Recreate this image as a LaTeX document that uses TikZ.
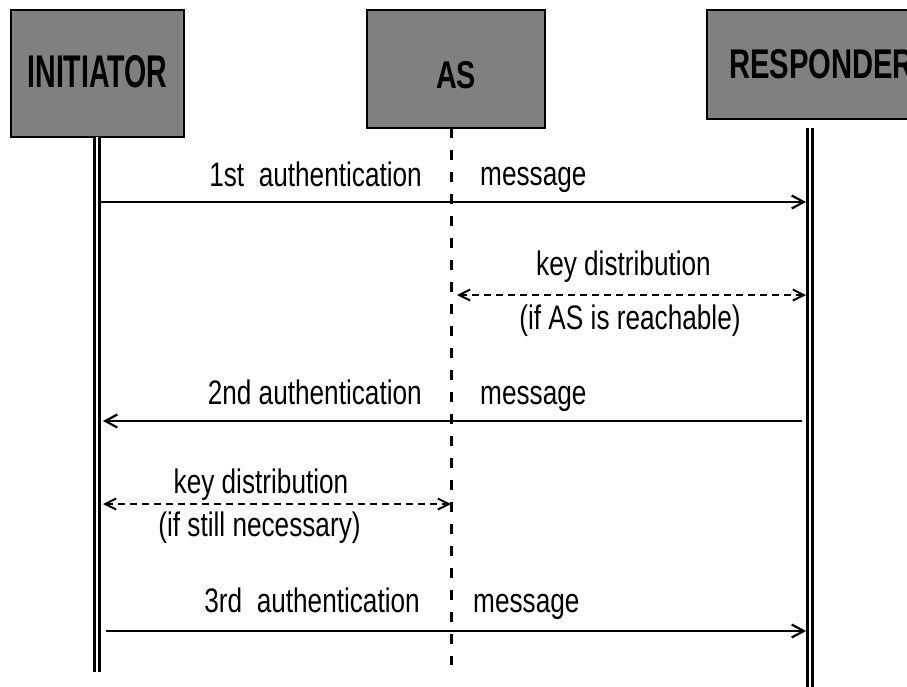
\documentclass[tikz,border=0pt]{standalone}
\usepackage{fontspec}
\setmainfont{Liberation Sans}
\newfontfamily\narrowfont{Liberation Sans}[FakeStretch=0.77]
\usetikzlibrary{arrows.meta}
\definecolor{boxgray}{RGB}{128,128,128}
\begin{document}
\begin{tikzpicture}[x=1pt,y=-1pt,
  actor/.style={draw=black,line width=2pt,fill=boxgray,inner sep=0pt},
  lbl/.style={font=\narrowfont\fontsize{34}{38}\selectfont,inner sep=0pt},
  msg/.style={line width=2.2pt,-{Straight Barb[length=12pt,width=13pt,line width=2.2pt]}},
  kd/.style={line width=2pt,dash pattern=on 7pt off 5pt,
    {Straight Barb[length=11pt,width=11pt,line width=2pt]}-{Straight Barb[length=11pt,width=11pt,line width=2pt]}},
  life/.style={double,double distance=2.8pt,line width=3pt},
  aslife/.style={line width=3pt,dash pattern=on 10pt off 12pt}]
\useasboundingbox (0,0) rectangle (907,686);
% actors
\node[actor,minimum width=173pt,minimum height=127pt] (ini) at (97.5,73.5)
  {\raisebox{-13.5pt}[0pt][0pt]{\resizebox{140pt}{32pt}{\bfseries INITIATOR}}};
\node[actor,minimum width=178pt,minimum height=118pt] (as) at (456,69)
  {\raisebox{-19pt}[0pt][0pt]{\resizebox{40pt}{27pt}{\bfseries AS}}};
\node[actor,minimum width=229pt,minimum height=109pt] (resp) at (821.5,64.5)
  {\raisebox{-14pt}[0pt][0pt]{\resizebox{185pt}{29pt}{\bfseries RESPONDER}}};
% lifelines
\coordinate (iniTop) at (97,137);
\coordinate (iniEnd) at (97,672);
\coordinate (asTop) at (451,128);
\coordinate (asEnd) at (451,665);
\coordinate (respTop) at (810,128);
\coordinate (respEnd) at (810,690);
\draw[life] (iniTop) -- (iniEnd);
\draw[aslife] (asTop) -- (asEnd);
\draw[life] (respTop) -- (respEnd);
% message 1
\coordinate (m1a) at (101,202);
\coordinate (m1b) at (806,202);
\draw[msg] (m1a) -- (m1b);
\node[lbl,anchor=base east] (t1a) at (422,186) {1st\ \ authentication};
\node[lbl,anchor=base west] (t1b) at (480,185) {message};
% key distribution 1
\coordinate (k1a) at (457,295);
\coordinate (k1b) at (806,295);
\draw[kd] (k1a) -- (k1b);
\node[lbl,anchor=base] (k1t) at (623.5,275) {key distribution};
\node[lbl,anchor=base] (k1u) at (630,329) {(if AS is reachable)};
% message 2
\coordinate (m2a) at (802,421);
\coordinate (m2b) at (103,421);
\draw[msg] (m2a) -- (m2b);
\node[lbl,anchor=base east] (t2a) at (422,404) {2nd authentication};
\node[lbl,anchor=base west] (t2b) at (480,404) {message};
% key distribution 2
\coordinate (k2a) at (103,504);
\coordinate (k2b) at (451,504);
\draw[kd] (k2a) -- (k2b);
\node[lbl,anchor=base] (k2t) at (261,493) {key distribution};
\node[lbl,anchor=base] (k2u) at (259.5,536) {(if still necessary)};
% message 3
\coordinate (m3a) at (106,631);
\coordinate (m3b) at (806,631);
\draw[msg] (m3a) -- (m3b);
\node[lbl,anchor=base east] (t3a) at (420,612) {3rd\ \ authentication};
\node[lbl,anchor=base west] (t3b) at (473,612) {message};
\end{tikzpicture}
\end{document}
